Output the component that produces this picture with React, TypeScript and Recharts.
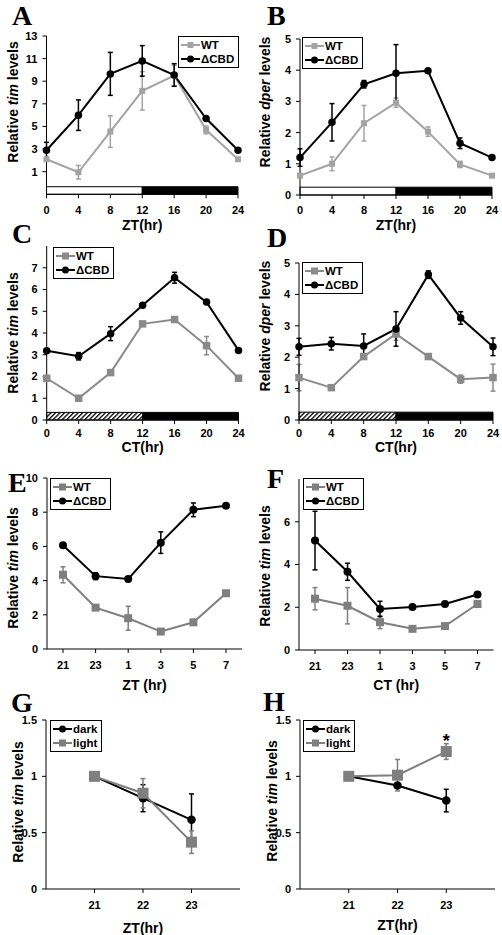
import React from "react";
import {
  ErrorBar,
  LabelList,
  Legend,
  Line,
  LineChart,
  ReferenceArea,
  XAxis,
  YAxis,
} from "recharts";

const FONT = '"Liberation Sans", Arial, sans-serif';

// hours
const cycleHours = [0, 4, 8, 12, 16, 20, 24];
const pulseHours = ["21", "23", "1", "3", "5", "7"];
const lightHours = [21, 22, 23];

// A: tim, LD
const aWt = [2.1, 0.95, 4.55, 8.15, 9.5, 4.7, 2.1];
const aWtErr = [0, 0.6, 1.4, 1.7, 0.9, 0.35, 0];
const aCbd = [2.9, 6.0, 9.65, 10.8, 9.55, 5.7, 2.9];
const aCbdErr = [0.7, 1.35, 1.9, 1.35, 1.0, 0, 0];

// B: dper, LD
const bWt = [0.62, 1.0, 2.3, 2.96, 2.03, 0.98, 0.62];
const bWtErr = [0, 0.22, 0.57, 0.15, 0.15, 0.1, 0];
const bCbd = [1.2, 2.33, 3.55, 3.9, 3.98, 1.66, 1.2];
const bCbdErr = [0.28, 0.6, 0.12, 0.92, 0, 0.17, 0];

// C: tim, DD
const cWt = [1.92, 1.0, 2.18, 4.42, 4.62, 3.42, 1.92];
const cWtErr = [0, 0.1, 0.12, 0, 0, 0.42, 0];
const cCbd = [3.18, 2.93, 3.97, 5.28, 6.54, 5.42, 3.2];
const cCbdErr = [0, 0.17, 0.32, 0, 0.25, 0, 0];

// D: dper, DD
const dWt = [1.35, 1.03, 2.02, 2.74, 2.02, 1.3, 1.35];
const dWtErr = [0.42, 0, 0.08, 0.2, 0, 0.13, 0.43];
const dCbd = [2.33, 2.43, 2.36, 2.9, 4.63, 3.25, 2.33];
const dCbdErr = [0.27, 0.2, 0.38, 0.55, 0.12, 0.2, 0.28];

// E: tim, ZT
const eWt = [4.34, 2.42, 1.8, 1.02, 1.56, 3.26];
const eWtErr = [0.47, 0, 0.7, 0, 0, 0];
const eCbd = [6.07, 4.26, 4.1, 6.22, 8.14, 8.38];
const eCbdErr = [0, 0.2, 0, 0.63, 0.4, 0];

// F: tim, CT
const fWt = [2.4, 2.07, 1.3, 0.99, 1.12, 2.15];
const fWtErr = [0.52, 0.85, 0.3, 0, 0.1, 0.1];
const fCbd = [5.12, 3.66, 1.92, 2.01, 2.15, 2.6];
const fCbdErr = [1.37, 0.4, 0.36, 0, 0, 0];

// G / H: dark vs light pulse
const gDark = [1.0, 0.806, 0.614];
const gDarkErr = [0, 0.12, 0.23];
const gLight = [1.0, 0.85, 0.416];
const gLightErr = [0, 0.13, 0.1];
const hDark = [1.0, 0.918, 0.785];
const hDarkErr = [0, 0, 0.1];
const hLight = [1.0, 1.01, 1.22];
const hLightErr = [0, 0.14, 0.07];
const hSig = ["", "", "*"];

type Row = Record<string, number | string>;

const wtRows = (hours: (number | string)[], wt: number[], wtE: number[], cbd: number[], cbdE: number[]): Row[] =>
  hours.map((t, i) => ({ t, wt: wt[i], wtErr: wtE[i], cbd: cbd[i], cbdErr: cbdE[i] }));

const pulseRows = (dark: number[], darkE: number[], light: number[], lightE: number[], sig?: string[]): Row[] =>
  lightHours.map((t, i) => ({ t, dark: dark[i], darkErr: darkE[i], light: light[i], lightErr: lightE[i], sig: sig ? sig[i] : "" }));

interface Series {
  key: string;
  err: string;
  name: string;
  color: string;
  shape: "square" | "circle";
  size: number;
}

const wtCbd = (gray: string, sq: number, ci: number): Series[] => [
  { key: "wt", err: "wtErr", name: "WT", color: gray, shape: "square", size: sq },
  { key: "cbd", err: "cbdErr", name: "\u0394CBD", color: "#000", shape: "circle", size: ci },
];

const darkLight = (gray: string): Series[] => [
  { key: "dark", err: "darkErr", name: "dark", color: "#000", shape: "circle", size: 8.5 },
  { key: "light", err: "lightErr", name: "light", color: gray, shape: "square", size: 11 },
];

const makeDot = (s: Series) => (p: any) => {
  const { cx, cy, index } = p;
  if (cx == null || cy == null) return <g key={index} />;
  if (s.shape === "square")
    return <rect key={index} x={cx - s.size / 2} y={cy - s.size / 2} width={s.size} height={s.size} fill={s.color} />;
  return <circle key={index} cx={cx} cy={cy} r={s.size / 2} fill={s.color} />;
};

function LegendBox({ series }: { series: Series[] }) {
  return (
    <div
      style={{
        border: "1px solid #000",
        background: "#fff",
        padding: "1px 4px 1px 2px",
        fontFamily: FONT,
        fontWeight: "bold",
        fontSize: 11.5,
        lineHeight: "14px",
        whiteSpace: "nowrap",
      }}
    >
      {series.map((s) => {
        const m = Math.min(s.size, 7);
        return (
          <div key={s.key} style={{ display: "flex", alignItems: "center" }}>
            <svg width={19} height={12} style={{ display: "block" }}>
              <line x1={0} x2={19} y1={6} y2={6} stroke={s.color} strokeWidth={2} />
              {s.shape === "square" ? (
                <rect x={9.5 - m / 2} y={6 - m / 2} width={m} height={m} fill={s.color} />
              ) : (
                <circle cx={9.5} cy={6} r={m / 2} fill={s.color} />
              )}
            </svg>
            <span style={{ marginLeft: 1 }}>{s.name}</span>
          </div>
        );
      })}
    </div>
  );
}

interface PanelProps {
  id: string;
  col: 0 | 1;
  plot: { l: number; r: number; t: number; b: number };
  rows: Row[];
  xType: "number" | "category";
  xDomain?: [number, number];
  xTicks?: number[];
  xPad?: number;
  xTickMargin: number;
  xTitle: string;
  xTitleY: number;
  yDomain: [number, number];
  yTicks: number[];
  gene: string;
  yTitle: [number, number];
  series: Series[];
  legendAt: [number, number];
  band?: "ld" | "hatch";
  bandTop?: number;
  sigKey?: string;
}

function Panel(p: PanelProps) {
  const bx = p.col === 0 ? 0 : 250;
  const bw = p.col === 0 ? 250 : 252;
  const by = Math.floor(p.plot.t) - 14;
  const bh = Math.ceil(p.plot.b) - by + 46;
  const xAxisH = by + bh - p.plot.b;
  const tick = { fill: "#000", fontSize: 11, fontWeight: "bold", fontFamily: FONT };
  const hatchId = `hatch-${p.id}`;
  const xt = { x: (p.plot.l + p.plot.r) / 2 - bx, y: p.xTitleY - by };
  const yt = { x: p.yTitle[0] - bx, y: p.yTitle[1] - by };
  return (
    <div style={{ position: "absolute", left: bx, top: by }}>
      <LineChart
        width={bw}
        height={bh}
        data={p.rows}
        margin={{ top: p.plot.t - by, right: bx + bw - p.plot.r, bottom: 0, left: 0 }}
      >
        <defs>
          <pattern id={hatchId} width={3.2} height={3.2} patternUnits="userSpaceOnUse" patternTransform="rotate(45)">
            <rect width={3.2} height={3.2} fill="#fff" />
            <rect width={1.3} height={3.2} fill="#000" />
          </pattern>
        </defs>
        <XAxis
          dataKey="t"
          type={p.xType}
          domain={p.xDomain}
          ticks={p.xTicks}
          padding={p.xPad ? { left: p.xPad, right: p.xPad } : undefined}
          height={xAxisH}
          stroke="#000"
          tickSize={4}
          tickMargin={p.xTickMargin}
          tick={tick}
          interval={0}
          label={() => (
            <text
              x={xt.x}
              y={xt.y}
              textAnchor="middle"
              dominantBaseline="central"
              style={{ fontFamily: FONT, fontWeight: "bold", fontSize: 14 }}
            >
              {p.xTitle}
            </text>
          )}
        />
        <YAxis
          type="number"
          domain={p.yDomain}
          ticks={p.yTicks}
          width={p.plot.l - bx}
          stroke="#000"
          tickSize={4}
          tickMargin={5}
          tick={tick}
          interval={0}
          label={() => (
            <text
              x={yt.x}
              y={yt.y}
              transform={`rotate(-90 ${yt.x} ${yt.y})`}
              textAnchor="middle"
              dominantBaseline="central"
              style={{ fontFamily: FONT, fontWeight: "bold", fontSize: 14 }}
            >
              Relative <tspan fontStyle="italic">{p.gene}</tspan> levels
            </text>
          )}
        />
        {p.band && (
          <ReferenceArea
            x1={0}
            x2={12}
            y1={p.yDomain[0]}
            y2={p.bandTop}
            fill={p.band === "hatch" ? `url(#${hatchId})` : "#fff"}
            fillOpacity={1}
            stroke="#000"
            strokeWidth={1}
          />
        )}
        {p.band && (
          <ReferenceArea
            x1={12}
            x2={24}
            y1={p.yDomain[0]}
            y2={p.bandTop}
            fill="#000"
            fillOpacity={1}
            stroke="#000"
            strokeWidth={1}
          />
        )}
        {p.series.map((s) => (
          <Line
            key={s.key}
            dataKey={s.key}
            name={s.name}
            type="linear"
            stroke={s.color}
            strokeWidth={2}
            dot={makeDot(s)}
            activeDot={false}
            isAnimationActive={false}
          >
            <ErrorBar dataKey={s.err} direction="y" width={2.5} stroke={s.color} strokeWidth={1.5} />
            {p.sigKey && s.key === "light" && (
              <LabelList
                dataKey={p.sigKey}
                content={(lp: any) =>
                  lp.value ? (
                    <text
                      key={lp.index}
                      x={lp.x}
                      y={lp.y - 5}
                      textAnchor="middle"
                      style={{ fontFamily: FONT, fontWeight: "bold", fontSize: 18 }}
                    >
                      {lp.value}
                    </text>
                  ) : null
                }
              />
            )}
          </Line>
        ))}
        <Legend
          layout="horizontal"
          verticalAlign="middle"
          align="center"
          content={() => <LegendBox series={p.series} />}
          wrapperStyle={{ left: p.legendAt[0] - bx, top: p.legendAt[1] - by, width: "auto", height: "auto" }}
        />
      </LineChart>
    </div>
  );
}

const letters: [string, number, number][] = [
  ["A", 12, 25],
  ["B", 267, 25],
  ["C", 12, 243],
  ["D", 267, 247],
  ["E", 8, 492],
  ["F", 267, 488],
  ["G", 11, 712],
  ["H", 263, 711],
];

export default function App() {
  const grayA = "#a3a3a3";
  const grayC = "#8a8a8a";
  const grayE = "#7f7f7f";
  return (
    <div style={{ position: "absolute", left: 0, top: 0, width: 502, height: 935, background: "#fff", overflow: "hidden" }}>
      <Panel
        id="A"
        col={0}
        plot={{ l: 46.5, r: 238, t: 36, b: 194.3 }}
        rows={wtRows(cycleHours, aWt, aWtErr, aCbd, aCbdErr)}
        xType="number"
        xDomain={[0, 24]}
        xTicks={cycleHours}
        xTickMargin={7.8}
        xTitle="ZT(hr)"
        xTitleY={225}
        yDomain={[-1, 13]}
        yTicks={[1, 3, 5, 7, 9, 11, 13]}
        gene="tim"
        yTitle={[13, 102]}
        series={wtCbd(grayA, 6, 7.5)}
        legendAt={[178, 36]}
        band="ld"
        bandTop={-0.33}
      />
      <Panel
        id="B"
        col={1}
        plot={{ l: 300, r: 492, t: 39, b: 195 }}
        rows={wtRows(cycleHours, bWt, bWtErr, bCbd, bCbdErr)}
        xType="number"
        xDomain={[0, 24]}
        xTicks={cycleHours}
        xTickMargin={7.2}
        xTitle="ZT(hr)"
        xTitleY={225}
        yDomain={[0, 5]}
        yTicks={[0, 1, 2, 3, 4, 5]}
        gene="dper"
        yTitle={[265, 102]}
        series={wtCbd(grayA, 6, 7.5)}
        legendAt={[302, 37]}
        band="ld"
        bandTop={0.25}
      />
      <Panel
        id="C"
        col={0}
        plot={{ l: 46.7, r: 238.5, t: 246, b: 420 }}
        rows={wtRows(cycleHours, cWt, cWtErr, cCbd, cCbdErr)}
        xType="number"
        xDomain={[0, 24]}
        xTicks={cycleHours}
        xTickMargin={5}
        xTitle="CT(hr)"
        xTitleY={447}
        yDomain={[0, 8]}
        yTicks={[0, 1, 2, 3, 4, 5, 6, 7]}
        gene="tim"
        yTitle={[13, 333]}
        series={wtCbd(grayC, 7.5, 7.5)}
        legendAt={[53, 247]}
        band="hatch"
        bandTop={0.35}
      />
      <Panel
        id="D"
        col={1}
        plot={{ l: 299, r: 493, t: 263, b: 420 }}
        rows={wtRows(cycleHours, dWt, dWtErr, dCbd, dCbdErr)}
        xType="number"
        xDomain={[0, 24]}
        xTicks={cycleHours}
        xTickMargin={5}
        xTitle="CT(hr)"
        xTitleY={447}
        yDomain={[0, 5]}
        yTicks={[0, 1, 2, 3, 4, 5]}
        gene="dper"
        yTitle={[265, 326]}
        series={wtCbd(grayC, 7.5, 7.5)}
        legendAt={[302, 262]}
        band="hatch"
        bandTop={0.25}
      />
      <Panel
        id="E"
        col={0}
        plot={{ l: 47, r: 242, t: 478, b: 649 }}
        rows={wtRows(pulseHours, eWt, eWtErr, eCbd, eCbdErr)}
        xType="category"
        xPad={16}
        xTickMargin={8}
        xTitle="ZT (hr)"
        xTitleY={685}
        yDomain={[0, 10]}
        yTicks={[0, 2, 4, 6, 8, 10]}
        gene="tim"
        yTitle={[13, 568]}
        series={wtCbd(grayE, 8, 8)}
        legendAt={[50, 478]}
      />
      <Panel
        id="F"
        col={1}
        plot={{ l: 299, r: 493.5, t: 479, b: 650 }}
        rows={wtRows(pulseHours, fWt, fWtErr, fCbd, fCbdErr)}
        xType="category"
        xPad={16}
        xTickMargin={8}
        xTitle="CT (hr)"
        xTitleY={685}
        yDomain={[0, 8]}
        yTicks={[0, 2, 4, 6]}
        gene="tim"
        yTitle={[265, 566]}
        series={wtCbd(grayE, 8, 8)}
        legendAt={[303, 478]}
      />
      <Panel
        id="G"
        col={0}
        plot={{ l: 46, r: 240, t: 720, b: 889 }}
        rows={pulseRows(gDark, gDarkErr, gLight, gLightErr)}
        xType="number"
        xDomain={[20, 24]}
        xTicks={lightHours}
        xTickMargin={8}
        xTitle="ZT(hr)"
        xTitleY={928}
        yDomain={[0, 1.5]}
        yTicks={[0, 0.5, 1, 1.5]}
        gene="tim"
        yTitle={[18, 802]}
        series={darkLight(grayE)}
        legendAt={[50, 720]}
      />
      <Panel
        id="H"
        col={1}
        plot={{ l: 300, r: 495, t: 720, b: 889 }}
        rows={pulseRows(hDark, hDarkErr, hLight, hLightErr, hSig)}
        xType="number"
        xDomain={[20, 24]}
        xTicks={lightHours}
        xTickMargin={8}
        xTitle="ZT(hr)"
        xTitleY={925}
        yDomain={[0, 1.5]}
        yTicks={[0, 0.5, 1, 1.5]}
        gene="tim"
        yTitle={[272, 801]}
        series={darkLight(grayE)}
        legendAt={[303, 720]}
        sigKey="sig"
      />
      <svg width={502} height={935} style={{ position: "absolute", left: 0, top: 0, pointerEvents: "none" }}>
        {letters.map(([txt, x, y]) => (
          <text key={txt} x={x} y={y} style={{ fontFamily: '"Liberation Serif", "Times New Roman", serif', fontWeight: "bold", fontSize: 28 }}>
            {txt}
          </text>
        ))}
      </svg>
    </div>
  );
}
